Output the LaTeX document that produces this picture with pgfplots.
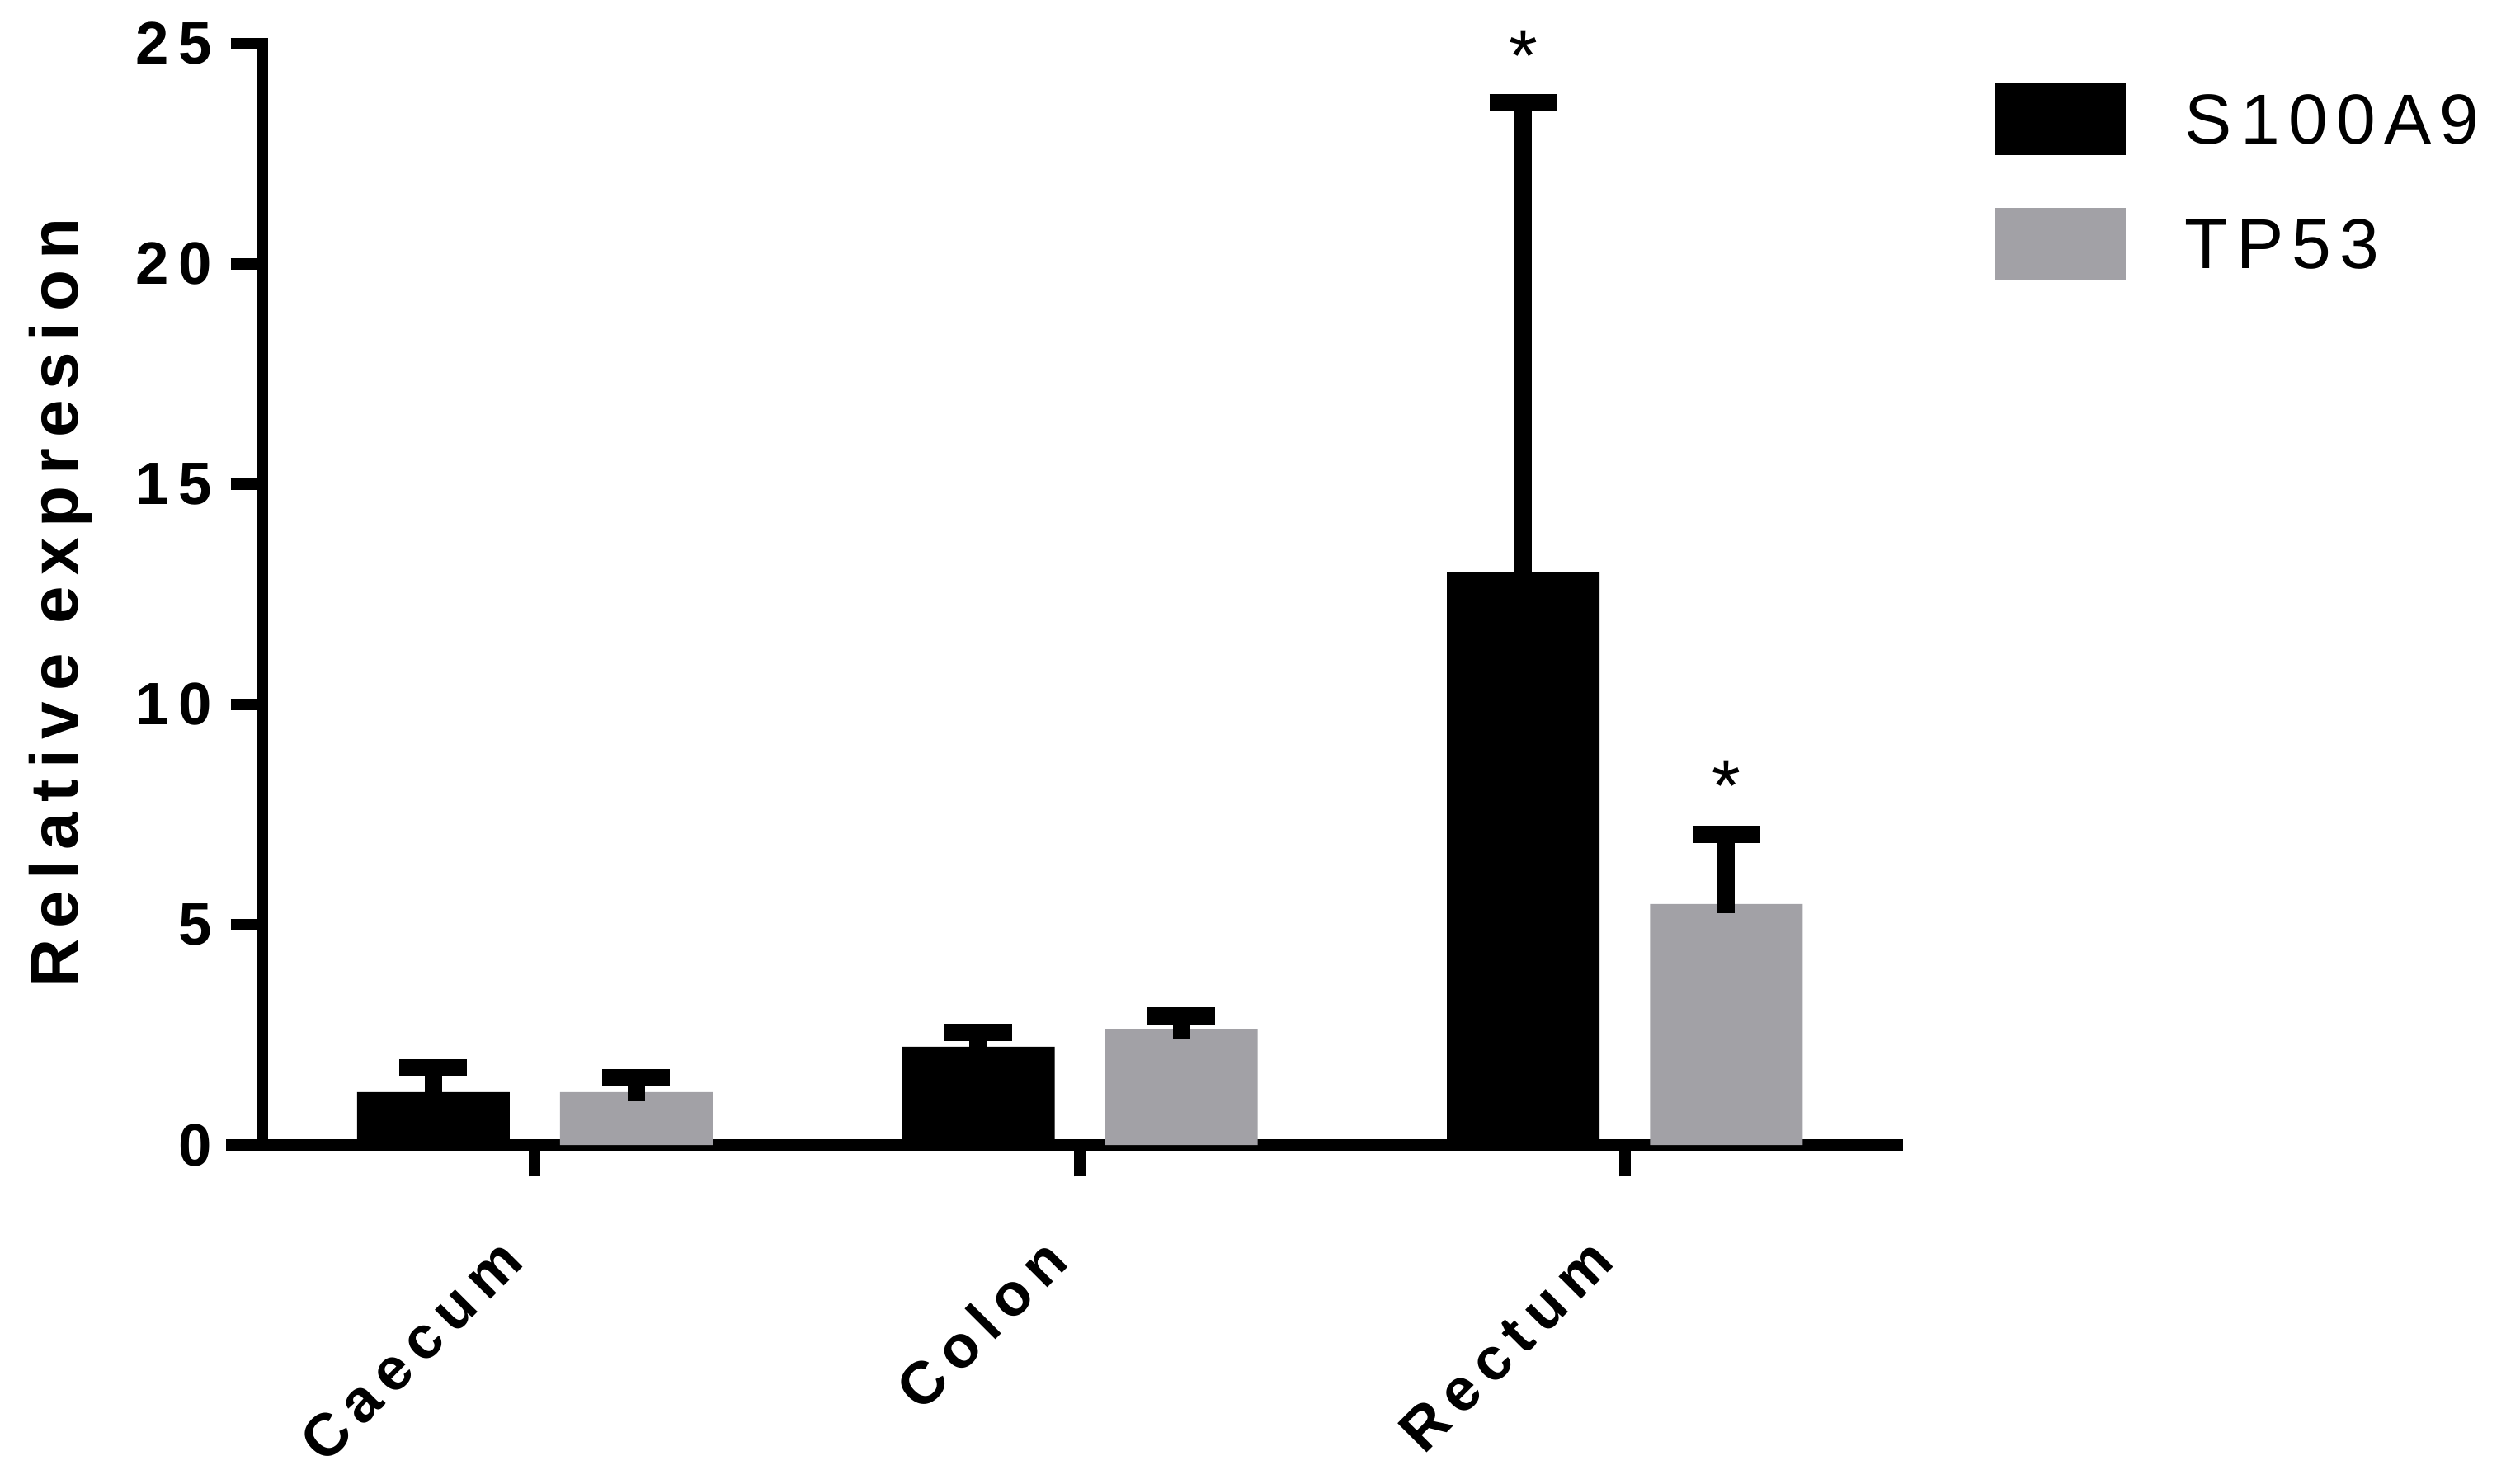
\documentclass[border=0pt]{standalone}
\usepackage{fontspec}
\setmainfont{Liberation Sans}
\newfontfamily\spacedA[LetterSpace=17]{Liberation Sans}
\newfontfamily\spacedB[LetterSpace=16]{Liberation Sans}
\newfontfamily\spacedC[LetterSpace=12]{Liberation Sans}
\newcommand{\ticksf}{\spacedA\bfseries\fontsize{11}{13}\selectfont}
\newcommand{\ylabsf}{\spacedB\bfseries\fontsize{12.4}{14}\selectfont}
\newcommand{\legsf}{\spacedC\fontsize{13}{15}\selectfont}
\newcommand{\astsf}{\fontsize{13.5}{15}\selectfont}
\usepackage{pgfplots}
\pgfplotsset{compat=1.18}
\definecolor{tpgrey}{RGB}{162,161,166}
\pgfplotsset{
  mylegend/.style={legend image code/.code={\fill[##1] (0pt,-5.85pt) rectangle (24.1pt,7.35pt);}},
  myerr/.style={error bars/.cd, y dir=plus, y explicit, error mark=|,
     error bar style={draw=black, line width=3.2pt},
     error mark options={draw=black, line width=3.2pt, mark size=6.2pt}},
}
\begin{document}
\begin{tikzpicture}
\begin{axis}[name=ax, scale only axis, width=300.3pt, height=202.3pt,
  xmin=-0.5, xmax=2.5, ymin=0, ymax=25,
  axis lines=left,
  axis line style={line width=2.1pt, -, line cap=rect},
  x axis line style={shorten <=-5.6pt},
  tick align=outside, major tick length=5.8pt,
  tick style={line width=2.1pt, black, line cap=butt},
  xtick={0,1,2}, xticklabels={Caecum,Colon,Rectum},
  ytick={0,5,10,15,20,25},
  /pgf/number format/assume math mode=true,
  yticklabel style={font=\ticksf, anchor=east, inner sep=0pt, xshift=-3.2pt},
  xticklabel style={font=\ticksf, xshift=-1.5pt, yshift=-16pt, rotate=45, anchor=base east, inner sep=0pt},
  ylabel={Relative expresion},
  every axis y label/.style={at={(axis description cs:-0.1234,0.492)}, rotate=90, anchor=center, inner sep=0pt, font=\ylabsf},
  clip=false,
  legend style={at={(axis description cs:1.0596,0.964)}, anchor=north west, draw=none, fill=none,
    inner sep=0pt, outer sep=0pt, font=\legsf, row sep=9.7pt, column sep=10.8pt,
    nodes={inner sep=0pt}},
  legend cell align=left,
]
\addplot[ybar, bar width=28.03pt, bar shift=0pt, fill=black, draw=none, mylegend, myerr]
  coordinates {(-0.1862,1.20) +- (0,0.55) (0.8138,2.23) +- (0,0.33) (1.8138,13.0) +- (0,10.66)};
\addlegendentry{S100A9}
\addplot[ybar, bar width=28.03pt, bar shift=0pt, fill=tpgrey, draw=none, mylegend, myerr]
  coordinates {(0.1862,1.20) +- (0,0.33) (1.1862,2.62) +- (0,0.31) (2.1862,5.47) +- (0,1.58)};
\addlegendentry{TP53}
\addplot[forget plot, draw=none, mark=none,
  error bars/.cd, y dir=minus, y explicit, error mark=none,
  error bar style={draw=black, line width=3.2pt}]
  coordinates {(0.1862,1.20) +- (0,0.21) (1.1862,2.62) +- (0,0.21) (2.1862,5.47) +- (0,0.21)};
\addplot[forget plot, only marks, mark=none, point meta=explicit symbolic,
  nodes near coords, nodes near coords style={font=\astsf, anchor=center, inner sep=0pt}]
  coordinates {(1.8138,24.72) [*] (2.1862,8.15) [*]};
\end{axis}
\pgfresetboundingbox
\path[use as bounding box] ([shift={(-48.18pt,-62.12pt)}]ax.south west) rectangle ([shift={(412.1pt,210.3pt)}]ax.south west);
\end{tikzpicture}
\end{document}
